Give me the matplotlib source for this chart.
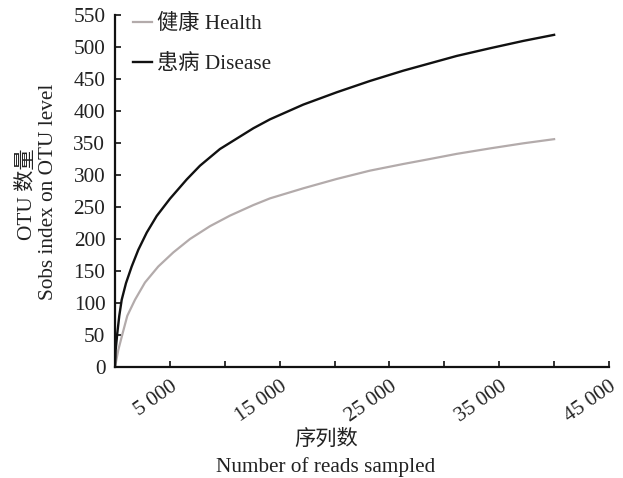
import matplotlib
matplotlib.use("Agg")
import matplotlib.pyplot as plt
from matplotlib.ticker import FuncFormatter, MultipleLocator

plt.rcParams['font.family'] = ['Liberation Serif', 'Noto Sans CJK SC']

health_x = [0, 300, 700, 1120, 1820, 2730, 3940, 5310, 6830, 8650, 10470, 12600,
            14120, 17150, 20190, 23220, 26260, 28690, 31120, 34150, 37190, 40000]
health_y = [0, 26.6, 53, 80, 105, 132, 157, 179, 200, 220, 236.5, 253,
            263.5, 279.2, 293.8, 306.8, 317.2, 325, 333, 341.5, 349.5, 356]

disease_x = [0, 60, 210, 390, 610, 1000, 1520, 2120, 2890, 3800, 5010, 6530, 7740,
             9560, 12600, 14120, 17150, 20190, 23220, 26260, 28690, 31120, 34150,
             37190, 40000]
disease_y = [0, 26.6, 53, 80, 105, 131, 157, 183, 210, 236, 263, 293, 314.5,
             340.6, 373, 387, 410, 429.2, 446.9, 463, 474.5, 486, 498, 509.5, 519]

labels = ['健康 Health', '患病 Disease']
xlabel_lines = ['序列数', 'Number of reads sampled']
ylabel_lines = ['OTU 数量', 'Sobs index on OTU level']

W, H = 623, 478
FS = 15.3
TXT = '#222222'

fig = plt.figure(figsize=(W / 100, H / 100), dpi=100)
ax = fig.add_axes([115 / W, 1 - 367 / H, (609 - 115) / W, (367 - 15) / H])

ax.plot(health_x, health_y, color='#b3abab', lw=1.6, label=labels[0])
ax.plot(disease_x, disease_y, color='#111111', lw=1.7, label=labels[1])

ax.set_xlim(0, 45000)
ax.set_ylim(0, 550)
ax.xaxis.set_major_locator(MultipleLocator(5000))
ax.yaxis.set_major_locator(MultipleLocator(50))

def xfmt(v, pos):
    iv = int(round(v))
    if iv % 10000 == 5000:
        return f"{iv:,}".replace(',', ' ')
    return ''

ax.xaxis.set_major_formatter(FuncFormatter(xfmt))
ax.tick_params(direction='in', length=4, width=1.3, labelsize=FS, colors=TXT)
ax.tick_params(axis='x', pad=7)
ax.tick_params(axis='y', pad=7)
for lab in ax.get_xticklabels():
    lab.set_rotation(35)
    lab.set_ha('right')
    lab.set_va('top')
    lab.set_rotation_mode('anchor')

for s in ['top', 'right']:
    ax.spines[s].set_visible(False)
for s in ['left', 'bottom']:
    ax.spines[s].set_linewidth(1.6)
    ax.spines[s].set_color('#111111')

# axis titles (two lines each)
fig.text(27 / W, 1 - 194 / H, ylabel_lines[0], rotation=90, ha='center', va='center',
         fontsize=FS, color=TXT)
fig.text(49 / W, 1 - 192 / H, ylabel_lines[1], rotation=90, ha='center', va='center',
         fontsize=FS, color=TXT)
fig.text(326 / W, 1 - 440 / H, xlabel_lines[0], ha='center', va='center',
         fontsize=FS, color=TXT)
fig.text(326 / W, 1 - 467 / H, xlabel_lines[1], ha='center', va='center',
         fontsize=FS, color=TXT)

leg = fig.legend(loc='upper left', frameon=False, fontsize=FS, handlelength=0.9,
                 handletextpad=0.25, labelspacing=0.95, borderpad=0, borderaxespad=0,
                 bbox_to_anchor=(133 / W, 1 - 14 / H))
for t in leg.get_texts():
    t.set_color(TXT)

fig.savefig('out.png', dpi=100)
